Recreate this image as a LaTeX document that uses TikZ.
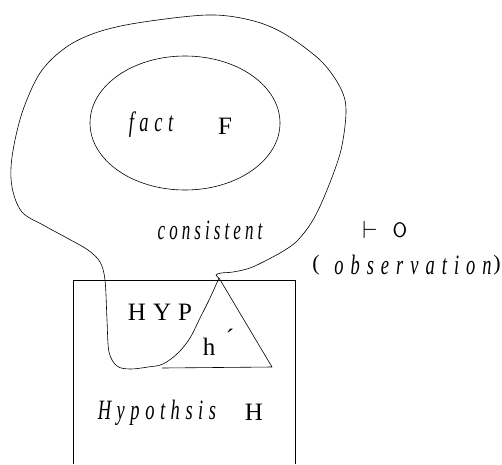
\documentclass[tikz,border=0pt]{standalone}
\usepackage{amsmath,amssymb}
\usepackage{fontspec}
\usetikzlibrary{positioning}
\setmainfont{Liberation Serif}
\newfontfamily\wideit[LetterSpace=30]{Liberation Serif}
\newfontfamily\narrowit[LetterSpace=24]{Liberation Serif}
\newfontfamily\widerit[LetterSpace=38]{Liberation Serif}
\newfontfamily\widerm[LetterSpace=28]{Liberation Serif}
\tikzset{
 itlbl/.style={font=\fontsize{28}{28}\wideit\itshape, inner sep=0pt, xscale=0.66},
 rmlbl/.style={font=\fontsize{25}{25}\widerm, inner sep=0pt},
 thinline/.style={line width=0.6pt, line join=round}
}

\begin{document}
\begin{tikzpicture}[x=1pt, y=-1pt]
 \useasboundingbox (0,0) rectangle (502,464);
 \draw[thinline] (73,464) -- (73,280) -- (295,280) -- (295,464);
 \draw[thinline] (185,123) ellipse (95 and 67);
 \draw[thinline] plot[smooth, tension=0.55] coordinates {
  (219,278) (216,275) (221,273) (233,272) (250,268) (267,260) (285,250) (298,240)
  (313,220) (327,190) (341,150) (346,110) (340,87) (320,60) (283,33) (250,20)
  (207,15) (137,23) (95,33) (65,48) (40,73) (22,113) (12,157) (12,187) (22,212)
  (45,226) (67,238) (88,250) (100,262) (105,280) (107,320) (109,352) (117,366)
  (130,369) (148,367) (163,364) (178,353) (190,338) (200,318) (210,298) (219,278)};
 \draw[thinline] (219,278) -- (272,367) -- (162,368);
 \node[itlbl] (fact) at (151,125) {fact};
 \node[rmlbl] (F) at (225,126) {F};
 \node[itlbl, xscale=0.92, font=\fontsize{28}{28}\narrowit\itshape] (cons) at (210,230) {consistent};
 \node[font=\fontsize{24}{24}\selectfont, inner sep=0pt] (turn) at (370,230) {$\vdash$};
 \node[font=\fontsize{21}{21}\sffamily, inner sep=0pt] (O) at (400,230) {O};
 \node[itlbl, font=\fontsize{28}{28}\widerit\itshape] (obs) at (413,265) {observation};
 \node[font=\fontsize{22}{22}\selectfont, inner sep=0pt] (lpar) at (316,265) {(};
 \node[font=\fontsize{22}{22}\selectfont, inner sep=0pt] (rpar) at (497,265) {)};
 \node[rmlbl] (hyp) at (160,312) {HYP};
 \node[rmlbl] (hh) at (209,347) {h};
 \node[rmlbl] (prime) at (230,338) {\textasciiacute};
 \node[itlbl] (hyps) at (157,413) {Hypothsis};
 \node[rmlbl] (H) at (254,412) {H};
\end{tikzpicture}
\end{document}
